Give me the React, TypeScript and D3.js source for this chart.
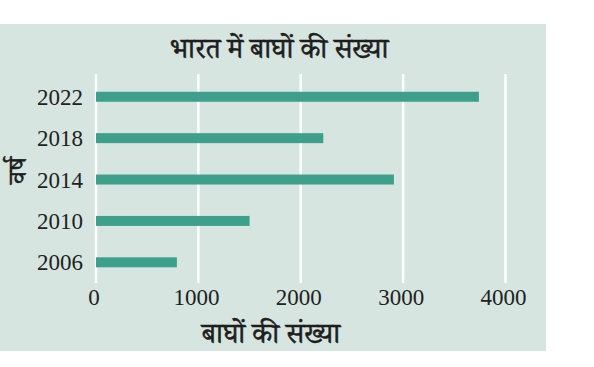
import { useEffect, useRef } from 'react';
import * as d3 from 'd3';

const years = [2022, 2018, 2014, 2010, 2006];
const tigers = [3740, 2220, 2910, 1500, 790];
const xTicks = [0, 1000, 2000, 3000, 4000];

const title = 'भारत में बाघों की संख्या';
const xLabel = 'बाघों की संख्या';
const yLabel = 'वर्ष';

const W = 594;
const H = 367;
const serif = '"Liberation Serif", "Noto Serif Devanagari", serif';

export default function App() {
  const svgRef = useRef<SVGSVGElement>(null);

  useEffect(() => {
    if (!svgRef.current) return;
    const svg = d3.select(svgRef.current);
    svg.selectAll('*').remove();

    // panel background
    svg
      .append('rect')
      .attr('x', 0)
      .attr('y', 24)
      .attr('width', 546)
      .attr('height', 327)
      .attr('fill', '#d6e5df');

    const left = 96;
    const right = 505.5;
    const top = 74;
    const bottom = 283;

    const x = d3.scaleLinear().domain([0, 4000]).range([left, right]);
    const y = d3.scaleLinear().domain([2004, 2024.2]).range([bottom, top]);

    // grid lines
    svg
      .append('g')
      .selectAll('line')
      .data(xTicks)
      .enter()
      .append('line')
      .attr('x1', (d) => x(d))
      .attr('x2', (d) => x(d))
      .attr('y1', top)
      .attr('y2', bottom)
      .attr('stroke', '#ffffff')
      .attr('stroke-width', 2.5);

    // bars
    const rows = years.map((yr, i) => ({ year: yr, count: tigers[i] }));
    const barH = 10;
    svg
      .append('g')
      .selectAll('rect')
      .data(rows)
      .enter()
      .append('rect')
      .attr('x', x(0))
      .attr('y', (d) => y(d.year) - barH / 2)
      .attr('width', (d) => x(d.count) - x(0))
      .attr('height', barH)
      .attr('fill', '#3e9f8b');

    // year labels
    svg
      .append('g')
      .selectAll('text')
      .data(years)
      .enter()
      .append('text')
      .attr('x', 83)
      .attr('y', (d) => y(d) + 8)
      .attr('text-anchor', 'end')
      .attr('font-family', serif)
      .attr('font-size', 23)
      .attr('fill', '#222')
      .text((d) => d);

    // x tick labels
    svg
      .append('g')
      .selectAll('text')
      .data(xTicks)
      .enter()
      .append('text')
      .attr('x', (d) => x(d) - 2)
      .attr('y', 305)
      .attr('text-anchor', 'middle')
      .attr('font-family', serif)
      .attr('font-size', 23)
      .attr('fill', '#222')
      .text((d) => d);

    // titles
    const heading = (sel: d3.Selection<SVGTextElement, unknown, null, undefined>) =>
      sel
        .attr('text-anchor', 'middle')
        .attr('font-family', serif)
        .attr('font-size', 28)
        .attr('fill', '#1e1e1e')
        .attr('stroke', '#1e1e1e')
        .attr('stroke-width', 0.5);

    svg.append('text').attr('x', 279).attr('y', 58).call(heading).text(title);

    svg.append('text').attr('x', 271).attr('y', 343).call(heading).text(xLabel);

    svg
      .append('text')
      .attr('transform', `translate(26,${(top + bottom) / 2 - 8}) rotate(-90)`)
      .call(heading)
      .attr('font-size', 26)
      .text(yLabel);
  }, []);

  return (
    <svg
      ref={svgRef}
      width={W}
      height={H}
      style={{ position: 'absolute', left: 0, top: 0, background: '#ffffff' }}
    />
  );
}
